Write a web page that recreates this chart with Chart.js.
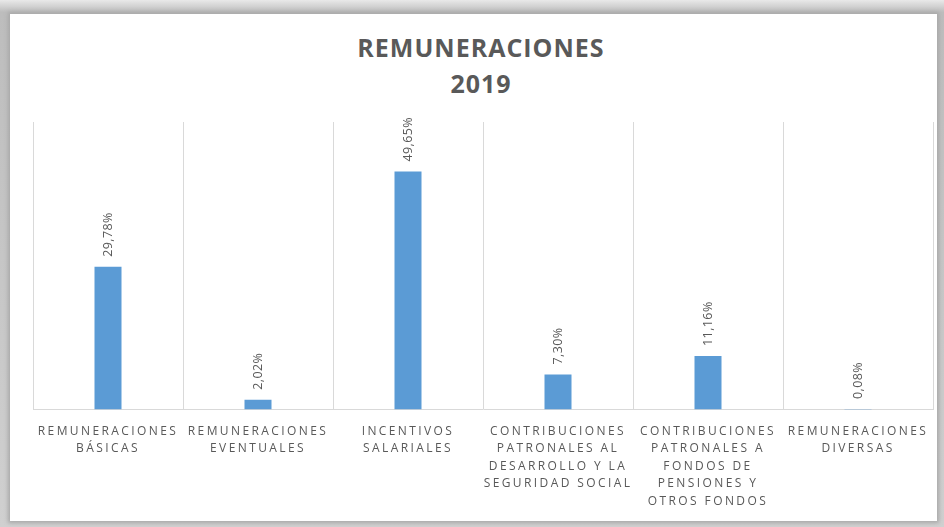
<!DOCTYPE html>
<html>
<head>
<meta charset="utf-8">
<script src="https://cdn.jsdelivr.net/npm/chart.js@4"></script>
<style>
  html, body { margin: 0; padding: 0; }
  body {
    width: 944px; height: 527px; overflow: hidden; position: relative;
    background: linear-gradient(#e9e9e9, #bdbdbd 12px, #d0d0d0 527px);
  }
  #card {
    position: absolute; left: 10px; top: 14px; width: 927px; height: 507px;
    background: #fff; box-shadow: 0 0 4px 2px #a8a8a8;
  }
  #title {
    position: absolute; left: 9px; top: 29px; width: 944px; text-align: center;
    font-family: "Open Sans", sans-serif; font-weight: bold; font-size: 25px;
    line-height: 36px; color: #595959; letter-spacing: 1px;
  }
  #wrap { position: absolute; left: 0; top: 0; width: 944px; height: 527px; }
</style>
</head>
<body>
<div id="card"></div>
<div id="title">REMUNERACIONES<br>2019</div>
<div id="wrap"><canvas id="chart"></canvas></div>
<script>
const categories = [
  ["REMUNERACIONES", "BÁSICAS"],
  ["REMUNERACIONES", "EVENTUALES"],
  ["INCENTIVOS", "SALARIALES"],
  ["CONTRIBUCIONES", "PATRONALES AL", "DESARROLLO Y LA", "SEGURIDAD SOCIAL"],
  ["CONTRIBUCIONES", "PATRONALES A", "FONDOS DE", "PENSIONES Y", "OTROS FONDOS"],
  ["REMUNERACIONES", "DIVERSAS"]
];
const values = [29.78, 2.02, 49.65, 7.30, 11.16, 0.08];

const fmt = v => v.toFixed(2).replace(".", ",") + "%";

// letter spaced axis labels like the original
const spacing = {
  id: "spacing",
  beforeUpdate(chart) { chart.ctx.letterSpacing = "2.4px"; },
  beforeDraw(chart) { chart.ctx.letterSpacing = "2.4px"; }
};

// rotated value labels above the bars
const barLabels = {
  id: "barLabels",
  afterDatasetsDraw(chart) {
    const ctx = chart.ctx;
    const meta = chart.getDatasetMeta(0);
    ctx.save();
    ctx.letterSpacing = "0.4px";
    ctx.font = "12.5px 'Open Sans', sans-serif";
    ctx.fillStyle = "#595959";
    ctx.textAlign = "left";
    ctx.textBaseline = "middle";
    meta.data.forEach((bar, i) => {
      ctx.save();
      ctx.translate(bar.x, bar.y - 10);
      ctx.rotate(-Math.PI / 2);
      ctx.fillText(fmt(values[i]), 0, 0);
      ctx.restore();
    });
    ctx.restore();
  }
};

new Chart(document.getElementById("chart"), {
  type: "bar",
  data: {
    labels: categories,
    datasets: [{
      data: values,
      backgroundColor: "#5b9bd5",
      borderWidth: 0,
      barPercentage: 0.18,
      categoryPercentage: 1
    }]
  },
  options: {
    responsive: true,
    maintainAspectRatio: false,
    animation: false,
    layout: { padding: { left: 33, right: 11, top: 122, bottom: 4 } },
    plugins: { legend: { display: false }, tooltip: { enabled: false } },
    scales: {
      x: {
        grid: { color: "#d9d9d9", drawTicks: false, offset: true },
        border: { color: "#d9d9d9" },
        ticks: {
          color: "#595959",
          font: { family: "'Open Sans', sans-serif", size: 12, lineHeight: 1.46 },
          padding: 13,
          maxRotation: 0,
          autoSkip: false
        }
      },
      y: { display: false, min: 0, max: 60 }
    }
  },
  plugins: [spacing, barLabels]
});
</script>
</body>
</html>
